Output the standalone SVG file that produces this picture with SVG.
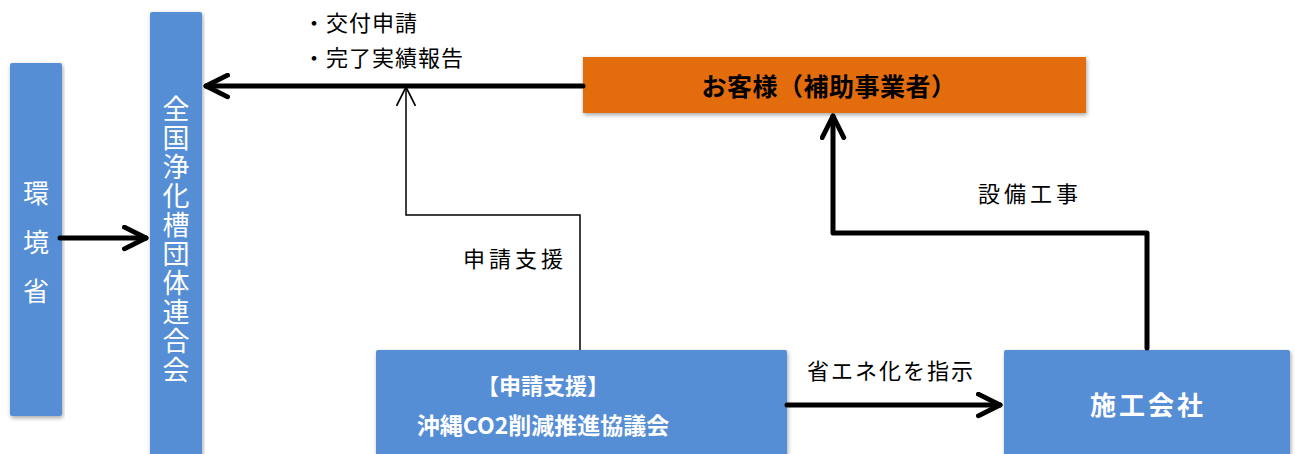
<svg xmlns="http://www.w3.org/2000/svg" width="1295" height="454" viewBox="0 0 1295 454">
<style>
.blue{fill:#558ED5}
.orange{fill:#E36C0A}
.wt{fill:#fff;font-family:"Noto Sans CJK JP","Noto Sans",sans-serif;font-weight:bold}
.wn{fill:#fff;font-family:"Noto Sans CJK JP","Noto Sans",sans-serif;font-weight:normal}
.lb{fill:#000;font-family:"Noto Sans CJK JP","Noto Sans",sans-serif;font-size:22px}
.thick{fill:none;stroke:#000;stroke-width:5;stroke-linecap:round;stroke-linejoin:round}
.thin{fill:none;stroke:#000;stroke-width:1.5;stroke-linejoin:miter}
</style>
<defs>
<filter id="sh" x="-5%" y="-5%" width="110%" height="120%">
<feDropShadow dx="1" dy="2" stdDeviation="2" flood-color="#000" flood-opacity="0.35"/>
</filter>
<marker id="ah" viewBox="0 0 10 10" refX="9" refY="5" markerWidth="5.4" markerHeight="5.4" orient="auto" markerUnits="strokeWidth">
<path d="M1,1 L9,5 L1,9" fill="none" stroke="#000" stroke-width="1.8" stroke-linecap="round" stroke-linejoin="round"/>
</marker>
<marker id="ahThin" viewBox="0 0 20 20" refX="19" refY="10" markerWidth="14" markerHeight="14" orient="auto" markerUnits="strokeWidth">
<path d="M1,1 L19,10 L1,19" fill="none" stroke="#000" stroke-width="1.6"/>
</marker>
</defs>
<g id="node-kankyosho">
<rect class="blue" x="10" y="63" width="52" height="353" rx="2" filter="url(#sh)"/>
<text class="wn" font-size="26" x="36" y="203" text-anchor="middle">環</text>
<text class="wn" font-size="26" x="36" y="252" text-anchor="middle">境</text>
<text class="wn" font-size="26" x="36" y="301" text-anchor="middle">省</text>
</g>
<g id="node-zenkoku">
<rect class="blue" x="150" y="12" width="52" height="450" rx="2" filter="url(#sh)"/>
<text class="wn" font-size="27" style="writing-mode:vertical-rl" x="176" y="95" letter-spacing="2">全国浄化槽団体連合会</text>
</g>
<g id="node-customer">
<rect class="orange" x="583" y="57" width="503" height="56" filter="url(#sh)"/>
<text x="829" y="96" text-anchor="middle" font-family="'Noto Sans CJK JP','Noto Sans',sans-serif" font-weight="bold" font-size="25" letter-spacing="0.5" fill="#000">お客様（補助事業者）</text>
</g>
<g id="node-okinawa">
<rect class="blue" x="376" y="350" width="411" height="110" rx="2" filter="url(#sh)"/>
<text class="wt" font-size="22" x="543" y="394" text-anchor="middle">【申請支援】</text>
<text class="wt" font-size="23" x="543" y="434" text-anchor="middle">沖縄CO2削減推進協議会</text>
</g>
<g id="node-sekou">
<rect class="blue" x="1004" y="350" width="286" height="110" rx="2" filter="url(#sh)"/>
<text class="wt" font-size="26" x="1148" y="415" text-anchor="middle" letter-spacing="3">施工会社</text>
</g>
<g id="connectors">
<path class="thick" d="M60,238 L146,238" marker-end="url(#ah)"/>
<path class="thick" d="M583,86 L206,86" marker-end="url(#ah)"/>
<path class="thin" d="M580,350 L580,215 L406,215 L406,87" marker-end="url(#ahThin)"/>
<path class="thick" d="M1147,348 L1147,233 L833,233 L833,116" marker-end="url(#ah)"/>
<path class="thick" d="M787,405 L1000,405" marker-end="url(#ah)"/>
</g>
<g id="labels">
<text class="lb" x="303" y="31" letter-spacing="1">・交付申請</text>
<text class="lb" x="303" y="66" letter-spacing="1">・完了実績報告</text>
<text class="lb" x="463" y="267" letter-spacing="4">申請支援</text>
<text class="lb" x="978" y="202" letter-spacing="4">設備工事</text>
<text class="lb" x="807" y="379" letter-spacing="2">省エネ化を指示</text>
</g>
</svg>
